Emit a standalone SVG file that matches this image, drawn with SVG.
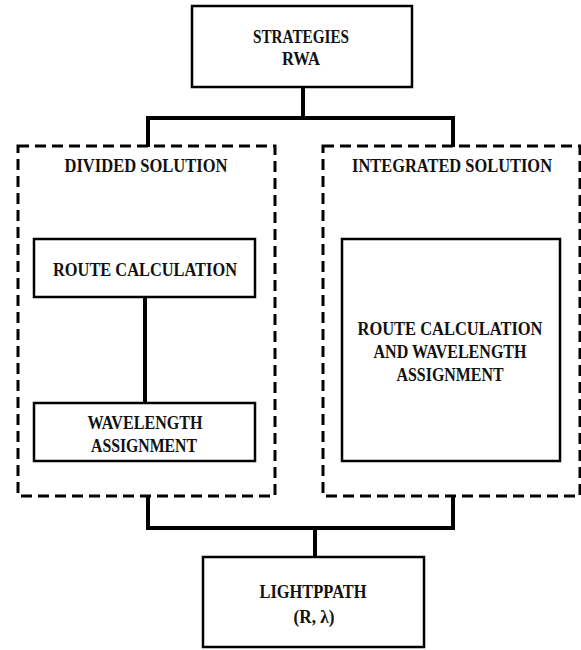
<svg xmlns="http://www.w3.org/2000/svg" width="581" height="650" viewBox="0 0 581 650">
<style>
.box{fill:#fff;stroke:#000;stroke-width:2.5}
.dash{fill:none;stroke:#000;stroke-width:3;stroke-dasharray:11 6}
.con{fill:none;stroke:#000;stroke-width:4;stroke-linecap:square}
.t{font-family:'Liberation Serif','DejaVu Serif',serif;font-weight:bold;font-size:19px;fill:#111;text-anchor:middle}
</style>
<rect width="581" height="650" fill="#fff"/>
<g id="connectors">
<path class="con" d="M303 88 V118 M148 118 H453 M148 118 V145 M453 118 V145"/>
<path class="con" d="M145 298 V402"/>
<path class="con" d="M148 497 V528 M453 497 V528 M148 528 H453 M315 528 V556"/>
</g>
<g id="strategies">
<rect class="box" x="192" y="6" width="220" height="81"/>
<text class="t" x="301" y="43" textLength="96" lengthAdjust="spacingAndGlyphs">STRATEGIES</text>
<text class="t" x="301" y="65" textLength="38" lengthAdjust="spacingAndGlyphs">RWA</text>
</g>
<g id="divided">
<rect class="dash" x="18" y="146" width="257" height="350"/>
<text class="t" x="146" y="172" textLength="163" lengthAdjust="spacingAndGlyphs">DIVIDED SOLUTION</text>
</g>
<g id="integrated">
<rect class="dash" x="323" y="146" width="257" height="350"/>
<text class="t" x="452" y="172" textLength="200" lengthAdjust="spacingAndGlyphs">INTEGRATED  SOLUTION</text>
</g>
<g id="route">
<rect class="box" x="34" y="239" width="221" height="58"/>
<text class="t" x="145" y="276" textLength="184" lengthAdjust="spacingAndGlyphs">ROUTE CALCULATION</text>
</g>
<g id="wavelength">
<rect class="box" x="34" y="403" width="221" height="58"/>
<text class="t" x="145" y="429" textLength="115" lengthAdjust="spacingAndGlyphs">WAVELENGTH</text>
<text class="t" x="144" y="452" textLength="106" lengthAdjust="spacingAndGlyphs">ASSIGNMENT</text>
</g>
<g id="route-wavelength">
<rect class="box" x="342" y="239" width="218" height="222"/>
<text class="t" x="450" y="335" textLength="185" lengthAdjust="spacingAndGlyphs">ROUTE CALCULATION</text>
<text class="t" x="450" y="358" textLength="153" lengthAdjust="spacingAndGlyphs">AND WAVELENGTH</text>
<text class="t" x="450" y="381" textLength="107" lengthAdjust="spacingAndGlyphs">ASSIGNMENT</text>
</g>
<g id="lightpath">
<rect class="box" x="203" y="557" width="221" height="90"/>
<text class="t" x="313" y="598" textLength="107" lengthAdjust="spacingAndGlyphs">LIGHTPPATH</text>
<text class="t" x="314" y="623" textLength="41" lengthAdjust="spacingAndGlyphs">(R, λ)</text>
</g>
</svg>
